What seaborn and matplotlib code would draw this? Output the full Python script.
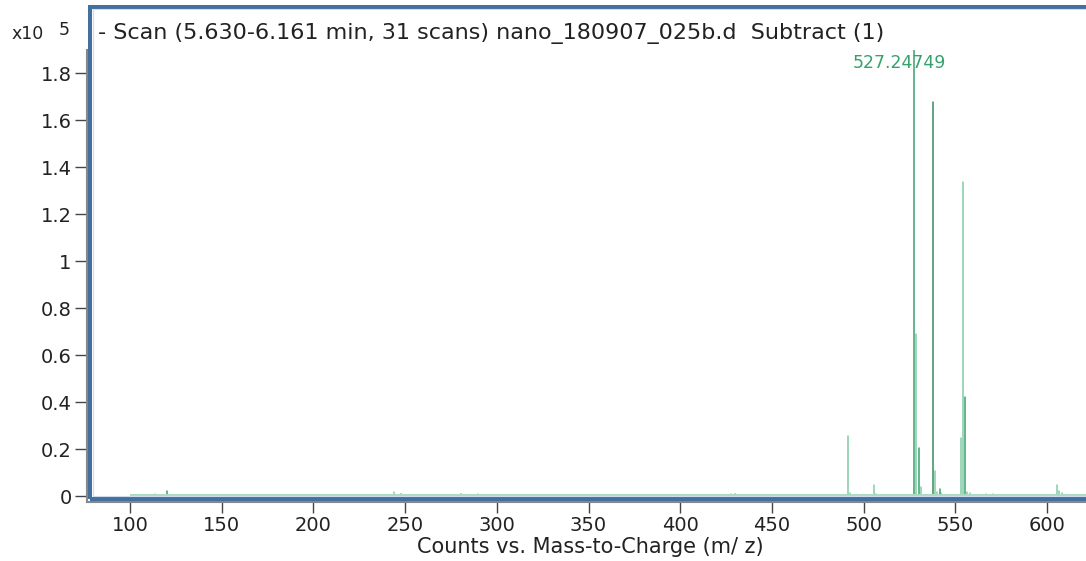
import matplotlib
matplotlib.use("Agg")
import matplotlib.pyplot as plt
import seaborn as sns
import pandas as pd
from matplotlib.patches import Rectangle

# ---- data (m/z, intensity in units of 1e5 counts) ----
mz = [113.5, 120.0, 244.0, 248.0, 280.5, 290.0, 427.5, 430.0, 459.0,
      491.5, 492.8, 505.7, 507.0, 511.0,
      527.25, 528.55, 529.95, 531.3,
      537.65, 538.95, 539.8, 541.45, 542.4,
      552.95, 554.35, 555.45, 556.6, 558.2, 567.0, 570.5,
      605.45, 606.7, 608.3]
intensity = [0.008, 0.022, 0.018, 0.010, 0.008, 0.010, 0.008, 0.010, 0.006,
             0.256, 0.012, 0.047, 0.010, 0.006,
             1.95, 0.69, 0.203, 0.038,
             1.677, 0.107, 0.015, 0.031, 0.014,
             0.247, 1.335, 0.42, 0.015, 0.012, 0.008, 0.008,
             0.047, 0.020, 0.012]
shade = ["light", "mid", "light", "mid", "mid", "light", "light", "mid", "light",
         "light", "light", "light", "light", "light",
         "mid", "light", "mid", "light",
         "dark", "light", "light", "mid", "light",
         "light", "light", "mid", "light", "light", "light", "light",
         "light", "light", "light"]
x_ticks = [100, 150, 200, 250, 300, 350, 400, 450, 500, 550, 600]
y_ticks = [0, 0.2, 0.4, 0.6, 0.8, 1.0, 1.2, 1.4, 1.6, 1.8]
y_ticklabels = ["0", "0.2", "0.4", "0.6", "0.8", "1", "1.2", "1.4", "1.6", "1.8"]
title = "- Scan (5.630-6.161 min, 31 scans) nano_180907_025b.d  Subtract (1)"
peak_label = "527.24749"
peak_label_mz = 527.25
xlabel = "Counts vs. Mass-to-Charge (m/ z)"

# build stick table
rows = []
for i, (m, h, s) in enumerate(zip(mz, intensity, shade)):
    rows.append({"mz": m, "I": 0.0, "unit": i, "shade": s})
    rows.append({"mz": m, "I": h, "unit": i, "shade": s})
df = pd.DataFrame(rows)

sns.set_style("white")
plt.rcParams["font.family"] = ["DejaVu Sans"]

W, H = 1086, 561
fig = plt.figure(figsize=(W / 100, H / 100), dpi=100)
ax = fig.add_axes([87 / W, 1 - 502 / H, 1 - 87 / W, (502 - 50) / H])

palette = {"light": "#84cca6", "mid": "#35a26c", "dark": "#3a8a60"}
sns.lineplot(data=df, x="mz", y="I", hue="shade", units="unit", estimator=None,
             sort=False, palette=palette, linewidth=1.1, legend=False, ax=ax)

# baseline noise band
ax.plot([100, 622], [0.004, 0.004], color="#a9dcc2", lw=1.4, solid_capstyle="butt")

x0 = 100 - (130 - 87) / 1.834
x1 = 100 + (1086 - 130) / 1.834
ax.set_xlim(x0, x1)
ax.set_ylim(-0.0255, 1.898)
ax.set_xticks(x_ticks)
ax.set_xticklabels([str(v) for v in x_ticks])
ax.set_yticks(y_ticks)
ax.set_yticklabels(y_ticklabels)
ax.tick_params(axis="both", bottom=True, left=True, direction="out", length=9,
               width=1.0, color="#444444", labelsize=14, labelcolor="#222222", pad=2)
ax.tick_params(axis="x", length=8, pad=2)
ax.set_xlabel("")
ax.set_ylabel("")
for s in ["top", "right"]:
    ax.spines[s].set_visible(False)
for s in ["left", "bottom"]:
    ax.spines[s].set_color("#888888")
    ax.spines[s].set_linewidth(1.5)

# peak annotation
ax.text(peak_label_mz - 14 / 1.834, 1.805, peak_label, color="#35a26c", fontsize=12.5,
        ha="center", va="bottom")

# selection frame
fig.patches.append(Rectangle((90 / W, 1 - 499 / H), 1.1, (499 - 6.7) / H,
                             transform=fig.transFigure, fill=False,
                             edgecolor="#44709f", linewidth=2.9, zorder=10))
fig.patches.append(Rectangle((92.8 / W, 1 - 496.3 / H), 1.1, (496.3 - 9.4) / H,
                             transform=fig.transFigure, fill=False,
                             edgecolor="#cfdcec", linewidth=0.8, zorder=10))

fig.text(98 / W, 1 - 33 / H, title, fontsize=16, color="#222222", va="center", ha="left")
fig.text(11 / W, 1 - 34 / H, "x10", fontsize=12.5, color="#222222", va="center", ha="left")
fig.text(59 / W, 1 - 30 / H, "5", fontsize=12.5, color="#222222", va="center", ha="left")
fig.text(590 / W, 1 - 547 / H, xlabel, fontsize=15, color="#222222", va="center", ha="center")

fig.savefig("out.png", dpi=100)
